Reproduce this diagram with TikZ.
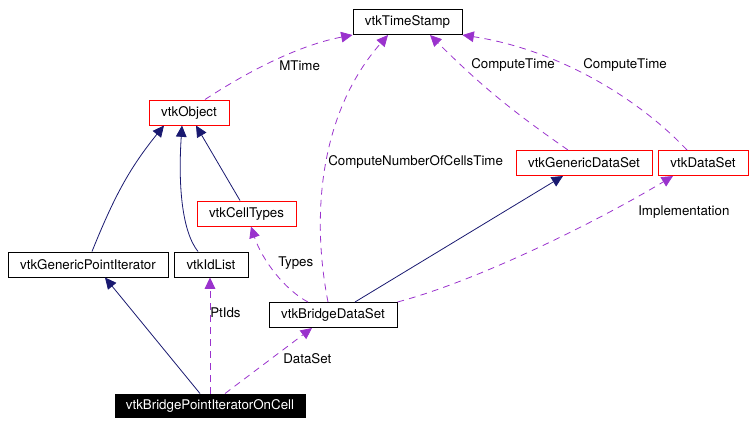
\documentclass[tikz,border=0pt]{standalone}
\usepackage{fontspec}
\setmainfont{TeX Gyre Heros}
\usetikzlibrary{arrows.meta}
\definecolor{edgeblue}{RGB}{25,25,112}
\definecolor{edgepurple}{RGB}{154,50,205}

\begin{document}
\begin{tikzpicture}[
    x=0.75pt, y=-0.75pt,
    font=\fontsize{10}{12}\selectfont,
    classbox/.style={rectangle, draw=black, line width=0.75pt, inner sep=0pt, minimum height=18.75pt},
    docbox/.style={classbox, draw=red},
    focusbox/.style={classbox, fill=black, text=white, minimum height=17.25pt},
    inherit/.style={-{Triangle[length=8.5pt,width=8pt]}, draw=edgeblue, line width=0.6pt},
    uses/.style={-{Triangle[length=8.5pt,width=8pt]}, draw=edgepurple, line width=0.6pt, dash pattern=on 5pt off 4pt},
    lbl/.style={inner sep=0pt, anchor=west}
]
\useasboundingbox (0,0) rectangle (754,426);

% Classes
\node[classbox, minimum width=81.75pt] (ts) at (407.5,22) {vtkTimeStamp};
\node[docbox, minimum width=60pt] (obj) at (189,112.5) {vtkObject};
\node[docbox, minimum width=74.25pt] (ct) at (246.5,213.5) {vtkCellTypes};
\node[classbox, minimum width=120pt] (gpi) at (88,264.5) {vtkGenericPointIterator};
\node[classbox, minimum width=55.5pt] (idl) at (211,264.5) {vtkIdList};
\node[classbox, minimum width=96pt] (bds) at (333,315) {vtkBridgeDataSet};
\node[docbox, minimum width=102pt] (gds) at (584,163) {vtkGenericDataSet};
\node[docbox, minimum width=67.5pt] (ds) at (703,163) {vtkDataSet};
\node[focusbox, minimum width=142.5pt] (bpioc) at (210,405.5) {vtkBridgePointIteratorOnCell};

% Inheritance
\draw[inherit] ([xshift=3pt]gpi.north) to[out=68,in=-129] ([xshift=-18.75pt]obj.south);
\draw[inherit] ([xshift=-9.75pt]idl.north) .. controls +(-16,-20) and +(-4,60) .. ([xshift=-5.25pt]obj.south);
\draw[inherit] ([xshift=-4.875pt]ct.north) -- ([xshift=5.25pt]obj.south);
\draw[inherit] ([xshift=-7.5pt]bpioc.north) -- ([xshift=12.75pt]gpi.south);
\draw[inherit] ([xshift=16.5pt]bds.north) -- ([xshift=-15.75pt]gds.south);

% Usage
\draw[uses] (bpioc.north) -- (bpioc.north |- idl.south);
\draw[uses] ([xshift=11.25pt]bpioc.north) -- ([xshift=-15.75pt]bds.south);
\draw[uses] ([xshift=-18.75pt]bds.north) .. controls (285,290) and (262,260) .. ([xshift=3.4pt]ct.south);
\draw[uses] ([xshift=-3.75pt]bds.north) .. controls (310,210) and (322,110) .. ([xshift=-14.625pt]ts.south);
\draw[uses] ([xshift=12pt]obj.north) .. controls (250,70) and (300,45) .. (ts.south west);
\draw[uses] ([xshift=-12pt]gds.north) to[bend left=5] ([xshift=16.875pt]ts.south);
\draw[uses] ([xshift=-12pt]ds.north) .. controls (640,100) and (560,50) .. (ts.south east);
\draw[uses] (bds.north east) .. controls (480,280) and (600,220) .. ([xshift=-22.5pt]ds.south);

% Edge labels
\node[lbl] (lmtime) at (279,66) {MTime};
\node[lbl] (lcells) at (328,162) {ComputeNumberOfCellsTime};
\node[lbl] (lgtime) at (471,65) {ComputeTime};
\node[lbl] (ldtime) at (583,65) {ComputeTime};
\node[lbl] (limpl) at (638,212) {Implementation};
\node[lbl] (ltypes) at (278,263) {Types};
\node[lbl] (lptids) at (210,313) {PtIds};
\node[lbl] (ldataset) at (283,359) {DataSet};

\end{tikzpicture}
\end{document}
